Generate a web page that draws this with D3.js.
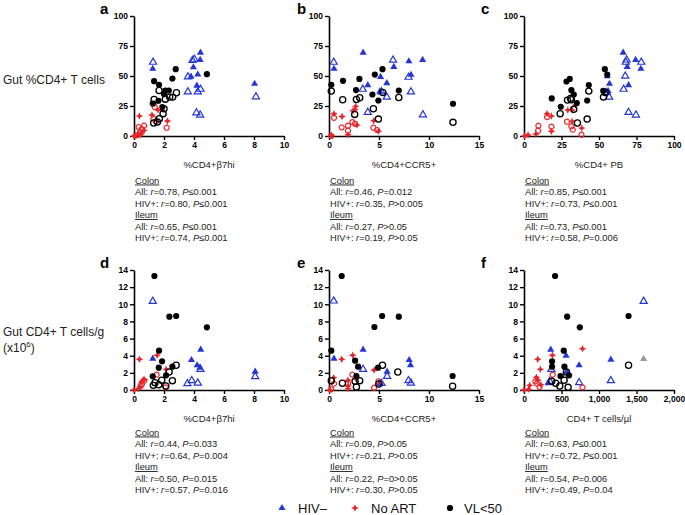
<!DOCTYPE html>
<html><head><meta charset="utf-8">
<script src="https://cdn.jsdelivr.net/npm/d3@7"></script>
<style>
body{margin:0;background:#fff;}
svg{display:block;font-family:"Liberation Sans",Arial,Helvetica,sans-serif;}
</style></head>
<body><svg id="c" width="685" height="515"></svg>
<script>
// ---------- DATA ----------
const panelLetters = ["a","b","c","d","e","f"];
const xTitles = ["%CD4+\u03b27hi","%CD4+CCR5+","%CD4+ PB","%CD4+\u03b27hi","%CD4+CCR5+","CD4+ T cells/\u00b5l"];
const xDomains = [[0,10],[0,15],[0,100],[0,10],[0,15],[0,2000]];
const xTickVals = [[0,2,4,6,8,10],[0,5,10,15],[0,25,50,75,100],[0,2,4,6,8,10],[0,5,10,15],[0,500,1000,1500,2000]];
const yTopTicks = [0,25,50,75,100];
const yBotTicks = [0,2,4,6,8,10,12,14];
const rowTitles = [["Gut %CD4+ T cells"],["Gut CD4+ T cells/g","(x10","6",")"]];
const legendLabels = ["HIV\u2013","No ART","VL<50"];

// series per panel: HIV- (colon filled / ileum open), No ART, VL<50
const aHivNegF = [[1.25,56],[4.43,69.5],[4.41,63.4],[3.96,57.3],[3.8,49.5],[4.25,51.2],[4.19,42],[8.04,43.5]];
const aHivNegO = [[1.27,61.5],[3.9,63],[4.03,64],[3.6,49.3],[3.59,36.8],[4.25,36.8],[4.43,39],[4.16,19.4],[4.41,17.5],[8.13,32.7]];
const aVlF = [[1.34,45.7],[1.67,42.7],[1.25,27.1],[2.78,55.7],[2.56,47.9],[2.09,37.9],[2.32,37.9],[2.0,34.9],[4.86,51.5],[1.63,29.4],[1.89,24.1]];
const aVlO = [[1.67,37.9],[1.34,30.5],[2.09,30.7],[2.38,32.4],[2.58,32.4],[2.83,36],[2.0,22.7],[1.94,18.6],[1.69,14.4],[1.31,10.8],[1.56,11.6]];
const aNoArtF = [[0.36,16.6],[1.34,26.9],[1.2,17.5],[1.6,21.6],[2.23,12.5],[0,0],[0.07,0.3],[0.29,1.4],[0.51,2.8],[0.67,4.7],[0.45,1]];
const aNoArtO = [[0.31,7.5],[0.67,8.6],[0.51,5.8],[0.4,3.3],[1.38,24.1],[1.29,14.4],[2.18,6.9],[1.47,12.2],[0.2,0.5]];

const bHivNegF = [[0.5,56],[3.41,69.5],[3.88,42.4],[5.15,49.3],[6.48,57.6],[7.99,62.3],[9.36,63.4],[5.78,44],[5.08,37.1],[8.2,51]];
const bHivNegO = [[0.47,61.5],[6.41,63.2],[3.37,39],[3.88,19.7],[5.25,36.8],[5.78,32.4],[7.95,49],[8.19,36.8],[9.39,17.7]];
const bVlF = [[0.23,42.7],[1.4,46],[3.04,47.6],[4.58,51.2],[5.35,55.7],[2.7,38.3],[4.34,34.6],[4.94,29.6],[6.98,37.9],[12.4,26.9]];
const bVlO = [[0.23,37.4],[1.37,30.2],[2.74,30.5],[3.07,31.9],[2.57,18],[4.44,22.7],[4.94,14.1],[5.38,36.3],[6.98,32.1],[12.4,11.4]];
const bNoArtF = [[0.5,18.6],[1.3,16.3],[2.4,21],[2.67,24.7],[2.8,9.1],[1.9,1.1],[4.48,12.7],[4.94,3.9],[0.23,0.8],[2.6,22]];
const bNoArtO = [[0.5,15.2],[1.27,7.2],[1.9,8.6],[2.34,11.6],[2.6,10.2],[1.9,4.4],[4.44,6.9],[4.81,5],[0.23,0]];

const cHivNegF = [[66.1,69.5],[74.4,63.4],[68.8,57.6],[77.9,56],[69.7,42.4],[55.5,49.9],[57,43.5],[56.1,37.4]];
const cHivNegO = [[68.4,63.4],[67.9,61.5],[78.2,61.5],[67.5,49.9],[66.4,39],[69.7,19.7],[74.6,17.5],[56.8,32.4],[55,36.3]];
const cVlF = [[18.5,31.3],[28.3,45.4],[30.5,47.6],[31.6,38.2],[33.2,34.6],[35.2,27.4],[24.5,24.4],[43.2,42.4],[42.1,29.6],[53.9,55.7],[55.5,51.2],[52.8,37.7]];
const cVlO = [[24.1,18.6],[29,29.9],[31,31.3],[31.6,30.2],[33.2,22.2],[35.6,10.8],[42.1,14.1],[43.2,37.4],[53,32.4],[54.1,36.3]];
const cNoArtF = [[15.4,18.6],[18.3,16.6],[29.2,21.6],[32.1,21.6],[34.5,25.8],[32.1,12.2],[38.5,6.6],[2.7,0.8],[0.4,0],[8,1.7],[18.3,3.9]];
const cNoArtO = [[15.4,15.8],[9.6,8.6],[18.3,7.8],[28.7,11.9],[31.6,8],[32.5,5.3],[38.3,1.1],[9.4,4.4]];

const dHivNegF = [[1.25,3.66],[3.83,3.5],[4.21,2.88],[4.45,4.7],[8.08,2.14],[4.4,2.6]];
const dHivNegO = [[1.25,10.35],[3.85,1.09],[4.25,0.82],[4.43,2.41],[3.56,0.74],[8.08,1.56]];
const dVlF = [[1.36,13.3],[2.36,8.56],[2.81,8.63],[4.86,7.31],[1.67,4.59],[1.87,3.35],[1.65,2.6],[1.25,1.6],[2.14,1.71],[2.56,2.72]];
const dVlO = [[2.81,2.88],[2.34,2.1],[1.85,1.13],[1.4,0.86],[1.65,0.62],[2.12,0.47],[2.56,1.09],[1.29,0.54]];
const dNoArtF = [[0.36,3.58],[1.54,4.05],[2.14,2.41],[0,0],[0.51,0.93],[0.67,1.24],[0.4,0.35],[0.6,1.1],[0.3,0.15]];
const dNoArtO = [[1.51,1.79],[2.12,0.31],[0.53,0.7],[0.69,1.09],[0.45,0.5]];

const eHivNegF = [[0.5,3.66],[3.41,4.7],[5.81,2.14],[8.02,3.5],[8.15,2.88],[5.08,0.82]];
const eHivNegO = [[0.47,10.39],[3.41,2.41],[5.81,1.59],[7.95,1.09],[8.19,0.82],[5.25,0.78]];
const eVlF = [[1.27,13.3],[4.54,7.35],[5.31,8.63],[6.98,8.56],[0.23,4.59],[2.61,3.42],[2.91,2.72],[4.91,2.6],[12.36,1.63],[2.74,1.63]];
const eVlO = [[0.23,1.09],[1.34,0.78],[2.61,1.01],[3.07,1.09],[2.74,0.35],[5.35,2.88],[6.88,2.1],[12.36,0.43],[4.98,0.7]];
const eNoArtF = [[1.27,3.58],[2.37,4.05],[4.51,2.33],[1.9,1.13],[1.9,0.47],[1.9,0.16],[0.07,0],[0.47,1.44],[2.7,1.3]];
const eNoArtO = [[0.5,0.74],[2.34,1.79],[1.9,0.74],[4.51,0.27],[4.94,1.01],[0.23,0.08]];

const fHivNegF = [[356,4.7],[561,4.0],[735,2.88],[1158,3.54],[321,0.78],[570,2.14]];
const fHivNegO = [[1595,10.35],[735,0.86],[1158,1.09],[365,2.41],[561,1.71],[343,1.01]];
const fGrey = [[1595,3.62]];
const fVlF = [[414,13.3],[575,8.56],[744,7.31],[1394,8.63],[530,4.59],[374,3.35],[374,2.72],[539,2.72],[486,1.63],[601,1.71]];
const fVlO = [[1394,2.88],[535,1.13],[370,1.01],[423,0.78],[477,0.47],[588,0.31],[566,2.1]];
const fNoArtF = [[183,3.58],[379,4.05],[780,4.82],[218,2.41],[165,1.48],[187,1.13],[223,0.62],[76,0.54],[0,0],[62,0.08]];
const fNoArtO = [[383,1.79],[169,0.74],[209,0.35],[780,0.31],[151,1.01]];

// statistics text: [group, r, operator, P]
const statsA = [["All","0.78","\u2264","0.001"],["HIV+","0.80","\u2264","0.001"],["All","0.65","\u2264","0.001"],["HIV+","0.74","\u2264","0.001"]];
const statsB = [["All","0.46","=","0.012"],["HIV+","0.35",">","0.005"],["All","0.27",">","0.05"],["HIV+","0.19",">","0.05"]];
const statsC = [["All","0.85","\u2264","0.001"],["HIV+","0.73","\u2264","0.001"],["All","0.73","\u2264","0.001"],["HIV+","0.58","=","0.006"]];
const statsD = [["All","0.44","=","0.033"],["HIV+","0.64","=","0.004"],["All","0.50","=","0.015"],["HIV+","0.57","=","0.016"]];
const statsE = [["All","0.09",">","0.05"],["HIV+","0.21",">","0.05"],["All","0.22","=0>","0.05"],["HIV+","0.30",">","0.05"]];
const statsF = [["All","0.63","\u2264","0.001"],["HIV+","0.72","\u2264","0.001"],["All","0.54","=","0.006"],["HIV+","0.49","=","0.04"]];
const tissueLabels = ["Colon","Ileum"];

// ---------- STYLE ----------
const BLUE = "#2437d6", RED = "#e8262a", BLACK = "#000", GREY = "#9a9a9a";
const svg = d3.select("#c");

const panelSeries = [
  [aHivNegF,aHivNegO,aNoArtF,aNoArtO,aVlF,aVlO,[]],
  [bHivNegF,bHivNegO,bNoArtF,bNoArtO,bVlF,bVlO,[]],
  [cHivNegF,cHivNegO,cNoArtF,cNoArtO,cVlF,cVlO,[]],
  [dHivNegF,dHivNegO,dNoArtF,dNoArtO,dVlF,dVlO,[]],
  [eHivNegF,eHivNegO,eNoArtF,eNoArtO,eVlF,eVlO,[]],
  [fHivNegF,fHivNegO,fNoArtF,fNoArtO,fVlF,fVlO,fGrey]
];
const panelStats = [statsA,statsB,statsC,statsD,statsE,statsF];

const lefts = [134,329,524];
const tops = [16,270];
const W = 150, H = 120;

const star4 = {draw(ctx,size){const r=Math.sqrt(size)*0.8, i=r*0.32;
  ctx.moveTo(0,-r);ctx.lineTo(i,-i);ctx.lineTo(r,0);ctx.lineTo(i,i);ctx.lineTo(0,r);ctx.lineTo(-i,i);ctx.lineTo(-r,0);ctx.lineTo(-i,-i);ctx.closePath();}};

const styles = [
  {sym:d3.symbolTriangle,size:22,fill:BLUE,stroke:"none",sw:0},
  {sym:d3.symbolTriangle,size:22,fill:"none",stroke:BLUE,sw:1.2},
  {sym:star4,size:22,fill:RED,stroke:"none",sw:0},
  {sym:d3.symbolCircle,size:20,fill:"none",stroke:RED,sw:1.2},
  {sym:d3.symbolCircle,size:30,fill:BLACK,stroke:"none",sw:0},
  {sym:d3.symbolCircle,size:30,fill:"none",stroke:BLACK,sw:1.3},
  {sym:d3.symbolTriangle,size:22,fill:GREY,stroke:"none",sw:0}
];

panelLetters.forEach((L,i)=>{
  const col = i%3, row = Math.floor(i/3);
  const x0 = lefts[col], y0 = tops[row];
  const g = svg.append("g").attr("transform",`translate(${x0},${y0})`);
  const x = d3.scaleLinear().domain(xDomains[i]).range([0,W]);
  const yDom = row===0 ? [0,100] : [0,14];
  const y = d3.scaleLinear().domain(yDom).range([H,0]);

  const xa = g.append("g").attr("transform",`translate(0,${H})`)
    .call(d3.axisBottom(x).tickValues(xTickVals[i]).tickSize(4).tickSizeOuter(0).tickPadding(2)
      .tickFormat(i===5 ? d3.format(",") : d3.format("d")));
  const ya = g.append("g")
    .call(d3.axisLeft(y).tickValues(row===0?yTopTicks:yBotTicks).tickSize(4).tickSizeOuter(0).tickPadding(2));
  [xa,ya].forEach(a=>{
    a.select(".domain").attr("stroke","#000").attr("stroke-width",1.6);
    a.selectAll(".tick line").attr("stroke","#000").attr("stroke-width",1.4);
    a.selectAll("text").attr("font-size",8.5).attr("font-weight","bold").attr("fill","#000")
      .attr("font-family","'Liberation Sans',Arial,sans-serif");
  });

  panelSeries[i].forEach((data,k)=>{
    const s = styles[k];
    g.selectAll(null).data(data).enter().append("path")
      .attr("d",d3.symbol().type(s.sym).size(s.size))
      .attr("transform",d=>`translate(${x(d[0])},${y(d[1])})`)
      .attr("fill",s.fill).attr("stroke",s.stroke).attr("stroke-width",s.sw);
  });

  // panel letter
  svg.append("text").attr("x", col===0?100:(col===1?297:481)).attr("y", row===0 ? 14 : 268)
    .attr("font-size",15).attr("font-weight","bold").text(L);

  // x title
  svg.append("text").attr("x",x0+W/2).attr("y",y0+H+32).attr("text-anchor","middle")
    .attr("font-size",9.5).attr("fill","#222").text(xTitles[i]);

  // stats
  const baseY = row===0 ? 183.5 : 435.5;
  const lh = 11.5;
  const st = panelStats[i];
  [0,1].forEach(t=>{
    svg.append("text").attr("x",x0+1).attr("y",baseY + t*3*lh)
      .attr("font-size",9.3).attr("text-decoration","underline").attr("fill","#222").text(tissueLabels[t]);
    [0,1].forEach(j=>{
      const s = st[t*2+j];
      const tx = svg.append("text").attr("x",x0+1).attr("y",baseY + (t*3+j+1)*lh)
        .attr("font-size",9.3).attr("fill","#222");
      tx.append("tspan").text(s[0]+": ");
      tx.append("tspan").attr("font-style","italic").text("r");
      tx.append("tspan").text("="+s[1]+", ");
      tx.append("tspan").attr("font-style","italic").text("P");
      tx.append("tspan").text(s[2]+s[3]);
    });
  });
});

// row titles
svg.append("text").attr("x",3).attr("y",84).attr("font-size",12).attr("fill","#222").text(rowTitles[0][0]);
svg.append("text").attr("x",3).attr("y",336).attr("font-size",12).attr("fill","#222").text(rowTitles[1][0]);
const t2 = svg.append("text").attr("x",3).attr("y",352).attr("font-size",12).attr("fill","#222");
t2.append("tspan").text(rowTitles[1][1]);
t2.append("tspan").attr("font-size",8).attr("dy",-5).text(rowTitles[1][2]);
t2.append("tspan").attr("dy",5).text(rowTitles[1][3]);

// legend
const legX = [282,355,450], legTX = [298,371,464];
[[0],[2],[4]].forEach((k,i)=>{
  const s = styles[k[0]];
  svg.append("path").attr("d",d3.symbol().type(s.sym).size(s.size))
    .attr("transform",`translate(${legX[i]},${508})`).attr("fill",s.fill);
  svg.append("text").attr("x",legTX[i]).attr("y",512.5).attr("font-size",13).attr("fill","#111").text(legendLabels[i]);
});
</script></body></html>
